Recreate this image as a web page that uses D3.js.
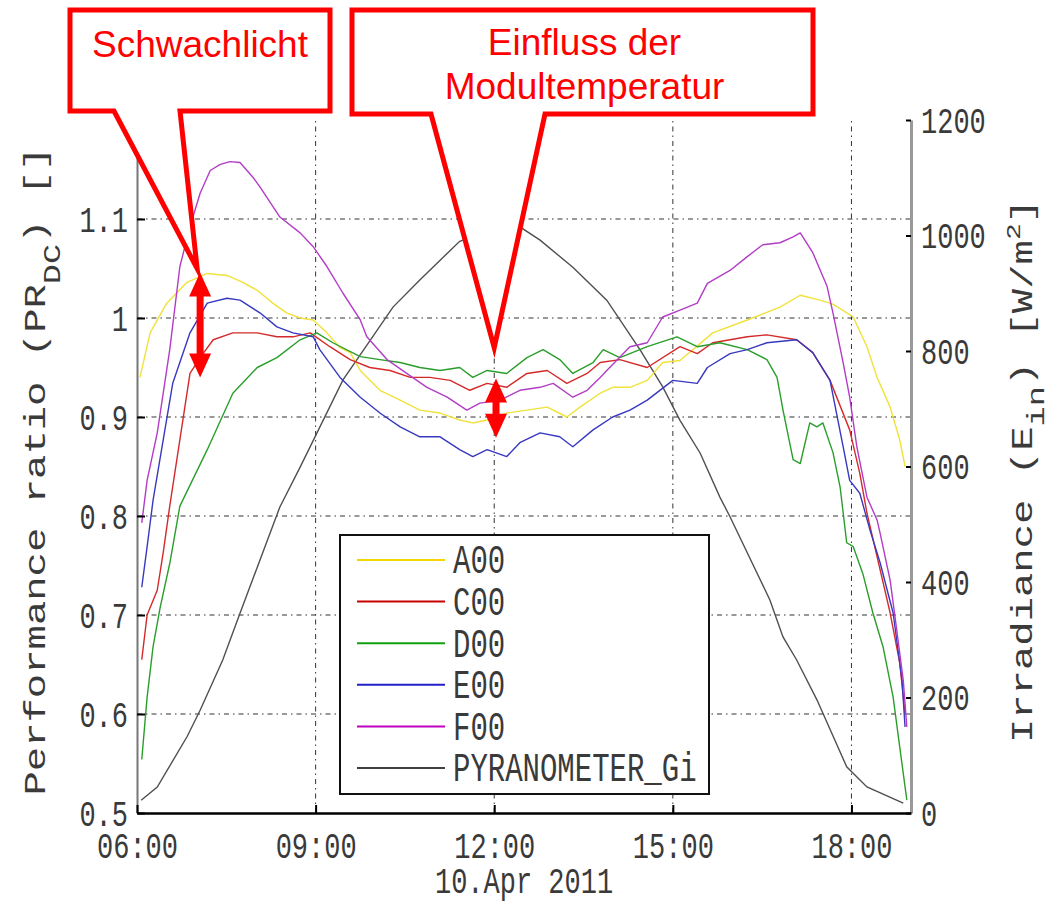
<!DOCTYPE html>
<html>
<head>
<meta charset="utf-8">
<script src="https://cdn.jsdelivr.net/npm/d3@7"></script>
<style>
  body { margin: 0; background: #fff; }
  svg text { font-family: "Liberation Mono", "Courier New", monospace; fill: #3a3a3a; }
  .callout text { font-family: "Liberation Sans", Arial, sans-serif; fill: #ff0000; }
</style>
</head>
<body>
<div id="chart"></div>
<script>
// tick values
var hourTicks = [6, 9, 12, 15, 18];
var prTicks = [0.5, 0.6, 0.7, 0.8, 0.9, 1.0, 1.1];
var irrTicks = [0, 200, 400, 600, 800, 1000, 1200];

// series: [hour of day, performance ratio]
var A00 = [[6.05,0.94],[6.22,0.985],[6.50,1.015],[6.84,1.036],[7.18,1.045],[7.51,1.043],[7.78,1.036],
  [8.02,1.028],[8.28,1.015],[8.52,1.005],[8.74,1.0],[8.96,0.998],[9.19,0.985],[9.41,0.97],[9.58,0.965],
  [9.75,0.947],[10.08,0.927],[10.42,0.917],[10.75,0.907],[11.09,0.904],[11.42,0.897],[11.64,0.894],
  [11.88,0.897],[12.21,0.904],[12.55,0.907],[12.89,0.91],[13.22,0.90],[13.44,0.91],[13.78,0.924],
  [13.99,0.93],[14.28,0.93],[14.57,0.937],[14.83,0.955],[15.12,0.957],[15.67,0.985],[16.25,0.998],
  [16.80,1.011],[17.14,1.023],[17.47,1.018],[17.69,1.014],[18.03,1.001],[18.26,0.971],[18.43,0.94],
  [18.65,0.91],[18.81,0.877],[18.90,0.85]];

var C00 = [[6.08,0.655],[6.17,0.70],[6.34,0.725],[6.44,0.763],[6.55,0.81],[6.89,0.944],[7.06,0.96],
  [7.28,0.978],[7.61,0.985],[8.02,0.985],[8.35,0.981],[8.62,0.981],[8.91,0.985],[9.24,0.971],
  [9.58,0.958],[9.91,0.95],[10.25,0.947],[10.59,0.94],[10.92,0.94],[11.26,0.937],[11.59,0.927],
  [11.88,0.934],[12.21,0.93],[12.55,0.944],[12.89,0.947],[13.22,0.934],[13.56,0.944],[13.78,0.955],
  [14.11,0.958],[14.57,0.95],[15.12,0.971],[15.41,0.964],[15.67,0.975],[16.25,0.981],[16.58,0.983],
  [17.08,0.978],[17.35,0.965],[17.64,0.937],[17.97,0.887],[18.14,0.843],[18.26,0.803],[18.43,0.759],
  [18.65,0.702],[18.81,0.652],[18.90,0.60]];

var D00 = [[6.08,0.554],[6.17,0.617],[6.27,0.668],[6.39,0.708],[6.55,0.752],[6.72,0.81],[7.18,0.867],
  [7.61,0.924],[8.02,0.95],[8.35,0.96],[8.74,0.978],[9.02,0.985],[9.29,0.975],[9.75,0.961],
  [10.08,0.958],[10.42,0.955],[10.75,0.95],[11.09,0.947],[11.42,0.95],[11.64,0.94],[11.88,0.947],
  [12.21,0.944],[12.55,0.96],[12.82,0.968],[13.10,0.958],[13.32,0.944],[13.66,0.955],[13.83,0.968],
  [14.11,0.96],[14.57,0.971],[15.07,0.981],[15.41,0.971],[15.79,0.975],[16.25,0.968],[16.58,0.958],
  [16.75,0.94],[16.85,0.907],[17.02,0.857],[17.14,0.853],[17.30,0.894],[17.42,0.89],[17.52,0.894],
  [17.69,0.864],[17.81,0.829],[17.92,0.773],[18.03,0.769],[18.19,0.742],[18.36,0.702],[18.53,0.668],
  [18.70,0.617],[18.81,0.567],[18.93,0.513]];

var E00 = [[6.08,0.728],[6.17,0.769],[6.27,0.816],[6.60,0.934],[6.89,0.985],[7.18,1.015],[7.51,1.02],
  [7.73,1.018],[8.07,1.005],[8.35,0.991],[8.62,0.985],[8.96,0.981],[9.07,0.968],[9.41,0.94],
  [9.75,0.92],[10.08,0.904],[10.42,0.89],[10.75,0.88],[11.09,0.88],[11.42,0.867],[11.64,0.86],
  [11.88,0.867],[12.21,0.86],[12.43,0.874],[12.77,0.884],[13.10,0.88],[13.32,0.87],[13.66,0.887],
  [13.99,0.90],[14.28,0.907],[14.57,0.917],[15.00,0.937],[15.41,0.934],[15.58,0.95],[15.96,0.964],
  [16.25,0.968],[16.58,0.975],[17.08,0.978],[17.35,0.965],[17.64,0.937],[17.86,0.87],[17.97,0.836],
  [18.14,0.823],[18.31,0.786],[18.48,0.753],[18.70,0.702],[18.85,0.634],[18.90,0.587]];

var F00 = [[6.08,0.793],[6.17,0.836],[6.34,0.884],[6.55,0.968],[6.72,1.052],[6.89,1.092],[7.06,1.126],
  [7.23,1.149],[7.39,1.155],[7.56,1.158],[7.73,1.157],[7.95,1.142],[8.07,1.132],[8.40,1.102],
  [8.74,1.086],[8.96,1.072],[9.19,1.052],[9.46,1.025],[9.75,0.998],[9.86,0.981],[10.20,0.958],
  [10.53,0.944],[10.87,0.93],[11.21,0.92],[11.54,0.907],[11.76,0.914],[12.10,0.917],[12.43,0.927],
  [12.77,0.93],[12.99,0.934],[13.32,0.92],[13.56,0.927],[13.78,0.94],[13.89,0.947],[14.28,0.971],
  [14.57,0.975],[14.83,1.001],[15.12,1.008],[15.41,1.015],[15.58,1.035],[15.96,1.048],[16.25,1.062],
  [16.51,1.074],[16.80,1.076],[17.02,1.082],[17.14,1.086],[17.35,1.066],[17.59,1.032],[17.69,1.005],
  [17.86,0.955],[17.97,0.92],[18.09,0.87],[18.26,0.819],[18.43,0.796],[18.48,0.783],[18.65,0.735],
  [18.76,0.685],[18.87,0.634],[18.93,0.587]];

// irradiance [hour, W/m2] on the right axis
var PYRANOMETER_Gi = [[6.07,22],[6.34,45],[6.84,132],[7.06,178],[7.44,265],[7.73,346],[8.40,530],
  [8.74,599],[9.46,750],[10.30,876],[10.75,923],[11.42,990],[11.93,1008],[12.43,1015],[12.77,992],
  [13.32,945],[13.89,888],[14.45,802],[14.83,738],[15.12,680],[15.46,623],[15.79,547],[15.96,513],
  [16.63,369],[16.85,305],[17.08,265],[17.42,196],[17.92,80],[18.26,45],[18.87,17]];

var seriesNames = ["A00", "C00", "D00", "E00", "F00", "PYRANOMETER_Gi"];
var seriesColors = ["#f0e23a", "#d42a2a", "#2a9e2a", "#3838c0", "#b23cc6", "#505050"];
var legendColors = ["#f2d800", "#c80000", "#10a010", "#2020c8", "#c000c0", "#404040"];

// annotations: tip of each callout and the red double arrows (hour, PR)
var calloutTexts = [["Schwachlicht"], ["Einfluss der", "Modultemperatur"]];
var calloutTips = [[7.01, 1.05], [12.0, 0.97]];
var arrowSpans = [[7.06, 1.046, 0.94], [12.03, 0.939, 0.879]];

var W = 1057, H = 904;
var sy = 1.4; // the original picture is stretched vertically

var svg = d3.select("#chart").append("svg")
  .attr("width", W)
  .attr("height", H);

var x = d3.scaleLinear().domain([6, 19]).range([137, 911]);
var y = d3.scaleLinear().domain([0.5, 1.2]).range([813, 120]);
var y2 = d3.scaleLinear().domain([0, 1200]).range([813, 120]);

// grid
var grid = svg.append("g")
  .attr("stroke", "#333")
  .attr("stroke-width", 1)
  .attr("stroke-dasharray", "5,4,1.5,4");
grid.selectAll(".hg")
  .data(prTicks.slice(1))
  .join("line")
  .attr("x1", x.range()[0]).attr("x2", x.range()[1])
  .attr("y1", d => y(d)).attr("y2", d => y(d));
grid.selectAll(".vg")
  .data(hourTicks.slice(1))
  .join("line")
  .attr("x1", d => x(d)).attr("x2", d => x(d))
  .attr("y1", y.range()[0]).attr("y2", y.range()[1]);

// lines
var prLine = d3.line().x(d => x(d[0])).y(d => y(d[1]));
var irrLine = d3.line().x(d => x(d[0])).y(d => y2(d[1]));
var prSeries = [A00, C00, D00, E00, F00];

svg.append("path")
  .attr("fill", "none")
  .attr("stroke", seriesColors[5])
  .attr("stroke-width", 1.4)
  .attr("d", irrLine(PYRANOMETER_Gi));

svg.selectAll(".series")
  .data(prSeries)
  .join("path")
  .attr("fill", "none")
  .attr("stroke", (d, i) => seriesColors[i])
  .attr("stroke-width", 1.4)
  .attr("stroke-linejoin", "round")
  .attr("d", prLine);

// axes
function stretch(g) {
  g.selectAll("text")
    .attr("transform", "scale(1," + sy + ")")
    .style("font-size", "27px")
    .attr("fill", "#3a3a3a");
  g.selectAll(".tick line").attr("stroke", "#000").attr("stroke-width", 2);
}

var gl = svg.append("g")
  .attr("transform", "translate(" + x.range()[0] + ",0)")
  .call(d3.axisLeft(y).tickValues(prTicks).tickSizeInner(-8).tickSizeOuter(0).tickPadding(9)
    .tickFormat(d => String(+d.toFixed(1))))
  .call(stretch);
gl.select(".domain").attr("stroke", "#777").attr("stroke-width", 2);

var gr = svg.append("g")
  .attr("transform", "translate(" + x.range()[1] + ",0)")
  .call(d3.axisRight(y2).tickValues(irrTicks).tickSizeInner(-5).tickSizeOuter(0).tickPadding(10)
    .tickFormat(d3.format("d")))
  .call(stretch);
gr.select(".domain").attr("stroke", "#999").attr("stroke-width", 3);

var gb = svg.append("g")
  .attr("transform", "translate(0," + y.range()[0] + ")")
  .call(d3.axisBottom(x).tickValues(hourTicks).tickSizeInner(-8).tickSizeOuter(0).tickPadding(13)
    .tickFormat(d => d3.format("02d")(d) + ":00"))
  .call(stretch);
gb.select(".domain").attr("stroke", "#000").attr("stroke-width", 2.5);

// axis titles
svg.append("text")
  .attr("transform", "translate(524,893) scale(1," + sy + ")")
  .attr("text-anchor", "middle")
  .style("font-size", "27px")
  .text("10.Apr 2011");

var tl = svg.append("text")
  .attr("transform", "translate(45,471) scale(1," + sy + ") rotate(-90)")
  .attr("text-anchor", "middle")
  .style("font-size", "29px");
tl.append("tspan").text("Performance ratio (PR");
tl.append("tspan").attr("dy", 15).style("font-size", "24px").text("DC");
tl.append("tspan").attr("dy", -15).text(") []");

var tr = svg.append("text")
  .attr("transform", "translate(1032,471) scale(1," + sy + ") rotate(-90)")
  .attr("text-anchor", "middle")
  .style("font-size", "29px");
tr.append("tspan").text("Irradiance (E");
tr.append("tspan").attr("dy", 12).style("font-size", "24px").text("in");
tr.append("tspan").attr("dy", -12).text(") [W/m");
tr.append("tspan").attr("dy", -12).style("font-size", "20px").text("2");
tr.append("tspan").attr("dy", 12).text("]");

// legend
var legend = svg.append("g").attr("transform", "translate(340,535)");
legend.append("rect")
  .attr("width", 369).attr("height", 259)
  .attr("fill", "#fff").attr("stroke", "#111").attr("stroke-width", 2);
var rows = legend.selectAll(".row")
  .data(seriesNames)
  .join("g")
  .attr("transform", (d, i) => "translate(0," + (25 + i * 41.6) + ")");
rows.append("line")
  .attr("x1", 17).attr("x2", 105)
  .attr("stroke", (d, i) => legendColors[i])
  .attr("stroke-width", 2);
rows.append("text")
  .attr("x", 113)
  .attr("transform", "scale(1," + sy + ")")
  .attr("dy", "0.33em")
  .style("font-size", "29px")
  .text(d => d);

// callouts
var boxes = [[70, 10, 330, 111, 114, 180], [352, 10, 813, 114, 431, 545]];
var callouts = svg.selectAll(".callout")
  .data(calloutTexts)
  .join("g")
  .attr("class", "callout");
callouts.append("path")
  .attr("fill", "#fff")
  .attr("stroke", "#ff0000")
  .attr("stroke-width", 5)
  .attr("stroke-miterlimit", 10)
  .attr("d", function(d, i) {
    var b = boxes[i], t = calloutTips[i];
    return "M" + b[0] + "," + b[1] + "H" + b[2] + "V" + b[3] + "H" + b[5] +
      "L" + x(t[0]) + "," + y(t[1]) + "L" + b[4] + "," + b[3] + "H" + b[0] + "Z";
  });
callouts.each(function(d, i) {
  var b = boxes[i];
  d3.select(this).selectAll("text")
    .data(d)
    .join("text")
    .attr("x", (b[0] + b[2]) / 2 + (i ? 2 : 0))
    .attr("y", (t, j) => (i ? 55 : 57) + j * 44)
    .attr("text-anchor", "middle")
    .style("font-size", "37px")
    .text(t => t);
});

// red double arrows
svg.selectAll(".arrow")
  .data(arrowSpans)
  .join("path")
  .attr("fill", "#ff0000")
  .attr("d", function(d) {
    var cx = x(d[0]), y0 = y(d[1]), y1 = y(d[2]);
    var hl = 24, hw = 11, sw = 3.5;
    return "M" + cx + "," + y0 +
      "L" + (cx + hw) + "," + (y0 + hl) + "H" + (cx + sw) + "V" + (y1 - hl) + "H" + (cx + hw) +
      "L" + cx + "," + y1 +
      "L" + (cx - hw) + "," + (y1 - hl) + "H" + (cx - sw) + "V" + (y0 + hl) + "H" + (cx - hw) + "Z";
  });
</script>
</body>
</html>
